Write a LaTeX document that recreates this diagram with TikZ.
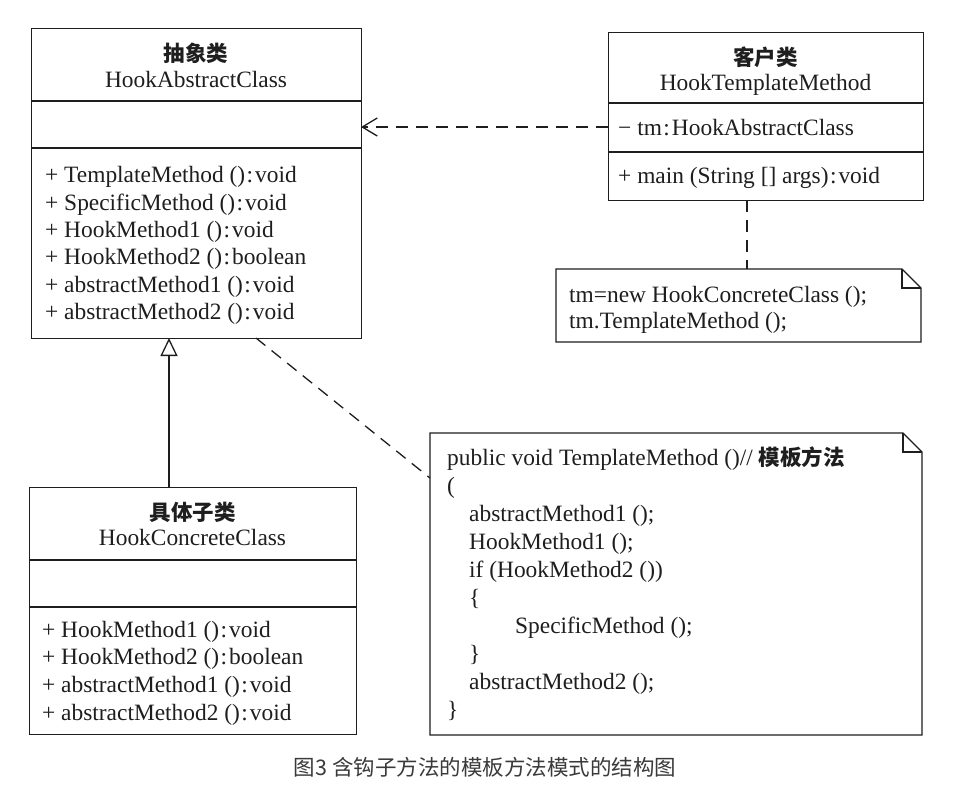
\documentclass[tikz,border=0pt]{standalone}
\usepackage{fontspec}
\setmainfont{Liberation Serif}
\newfontfamily\cjk{Noto Sans CJK SC}
\newfontfamily\cjkcap{Noto Sans CJK SC}
\usetikzlibrary{arrows.meta}
\definecolor{ink}{HTML}{1E1E1E}
\definecolor{captxt}{HTML}{3A3A3A}
\newcommand{\cln}{\kern1.5pt:\kern2pt}
\begin{document}
\begin{tikzpicture}[x=1pt,y=-1pt,
  box/.style={draw=ink,line width=1.3pt},
  txt/.style={anchor=base west,inner sep=0pt,text=ink,font=\fontsize{23.4}{27}\selectfont},
  ttl/.style={anchor=base,inner sep=0pt,text=ink,font=\fontsize{23.4}{27}\selectfont},
  cttl/.style={anchor=base,inner sep=0pt,text=ink,font=\cjk\bfseries\fontsize{21.5}{27}\selectfont},
  dsh/.style={draw=ink,line width=1.3pt,dash pattern=on 12pt off 8pt},
  note/.style={draw=ink,line width=1.3pt,line join=miter}]
\useasboundingbox (0,0) rectangle (953,793);
\fill[white] (0,0) rectangle (953,793);

% ---------- abstract class ----------
\coordinate (a1) at (31,28);
\node[box,anchor=north west,minimum width=330pt,minimum height=310pt,inner sep=0pt] (abs) at (a1) {};
\draw[box] (31,101) -- (361,101);
\draw[box] (31,148) -- (361,148);
\node[cttl] (absc) at (196,61) {抽象类};
\node[ttl] (absn) at (196,87) {HookAbstractClass};
\node[txt] (am1) at (45,182) {+ TemplateMethod ()\cln void};
\node[txt] (am2) at (45,210) {+ SpecificMethod ()\cln void};
\node[txt] (am3) at (45,237) {+ HookMethod1 ()\cln void};
\node[txt] (am4) at (45,264) {+ HookMethod2 ()\cln boolean};
\node[txt] (am5) at (45,292) {+ abstractMethod1 ()\cln void};
\node[txt] (am6) at (45,319) {+ abstractMethod2 ()\cln void};

% ---------- client class ----------
\node[box,anchor=north west,minimum width=315pt,minimum height=168pt,inner sep=0pt] (cli) at (608,32) {};
\draw[box] (608,103) -- (923,103);
\draw[box] (608,152) -- (923,152);
\node[cttl] (clic) at (765.5,65) {客户类};
\node[ttl] (clin) at (765.5,90) {HookTemplateMethod};
\node[txt] (cf1) at (618,135) {− tm\cln HookAbstractClass};
\node[txt] (cm1) at (618,183) {+ main (String [] args)\cln void};

% ---------- concrete class ----------
\node[box,anchor=north west,minimum width=327pt,minimum height=247pt,inner sep=0pt] (con) at (29,487) {};
\draw[box] (29,560) -- (356,560);
\draw[box] (29,607) -- (356,607);
\node[cttl] (conc) at (192.5,520) {具体子类};
\node[ttl] (conn) at (192.5,545) {HookConcreteClass};
\node[txt] (cm1b) at (42,637) {+ HookMethod1 ()\cln void};
\node[txt] (cm2b) at (42,664) {+ HookMethod2 ()\cln boolean};
\node[txt] (cm3b) at (42,692) {+ abstractMethod1 ()\cln void};
\node[txt] (cm4b) at (42,720) {+ abstractMethod2 ()\cln void};

% ---------- note 1 ----------
\draw[note,fill=white] (556,269) -- (902,269) -- (921,288) -- (921,342) -- (556,342) -- cycle;
\draw[note] (902,269) -- (902,288) -- (921,288);
\coordinate (n1top) at (747,269);
\node[txt] (n1a) at (569,302) {tm=new HookConcreteClass ();};
\node[txt] (n1b) at (569,328) {tm.TemplateMethod ();};

% ---------- note 2 ----------
\draw[note,fill=white] (430,433) -- (903,433) -- (922,452) -- (922,735) -- (430,735) -- cycle;
\draw[note] (903,433) -- (903,452) -- (922,452);
\coordinate (n2left) at (430,478);
\node[txt] (p1) at (447,465) {public void TemplateMethod ()// {\cjk\bfseries\fontsize{21.5}{27}\selectfont 模板方法}};
\node[txt] (p2) at (447,493) {(};
\node[txt] (p3) at (469,521) {abstractMethod1 ();};
\node[txt] (p4) at (469,549) {HookMethod1 ();};
\node[txt] (p5) at (469,577) {if (HookMethod2 ())};
\node[txt] (p6) at (469,605) {\{};
\node[txt] (p7) at (515,633) {SpecificMethod ();};
\node[txt] (p8) at (469,661) {\}};
\node[txt] (p9) at (469,689) {abstractMethod2 ();};
\node[txt] (p10) at (447,717) {\}};

% ---------- connectors ----------
\coordinate (cliL) at (608,127);
\coordinate (absR) at (361,127);
\draw[dsh,-{Straight Barb[length=15pt,width=18pt,line width=1.3pt]}] (cliL) -- (absR);
\coordinate (cliB) at (747,200);
\draw[dsh] (cliB) -- (n1top);
\coordinate (conT) at (169,487);
\coordinate (absB) at (169,338);
\draw[draw=ink,line width=1.3pt,-{Triangle[open,length=18pt,width=17pt,line width=1.3pt]}] (conT) -- (absB);
\coordinate (absB2) at (256,338);
\draw[dsh] (absB2) -- (n2left);

% ---------- caption ----------
\node[anchor=center,inner sep=0pt,text=captxt,font=\cjkcap\fontsize{21.5}{26}\selectfont] (cap) at (485,767) {图3 含钩子方法的模板方法模式的结构图};
\end{tikzpicture}
\end{document}
